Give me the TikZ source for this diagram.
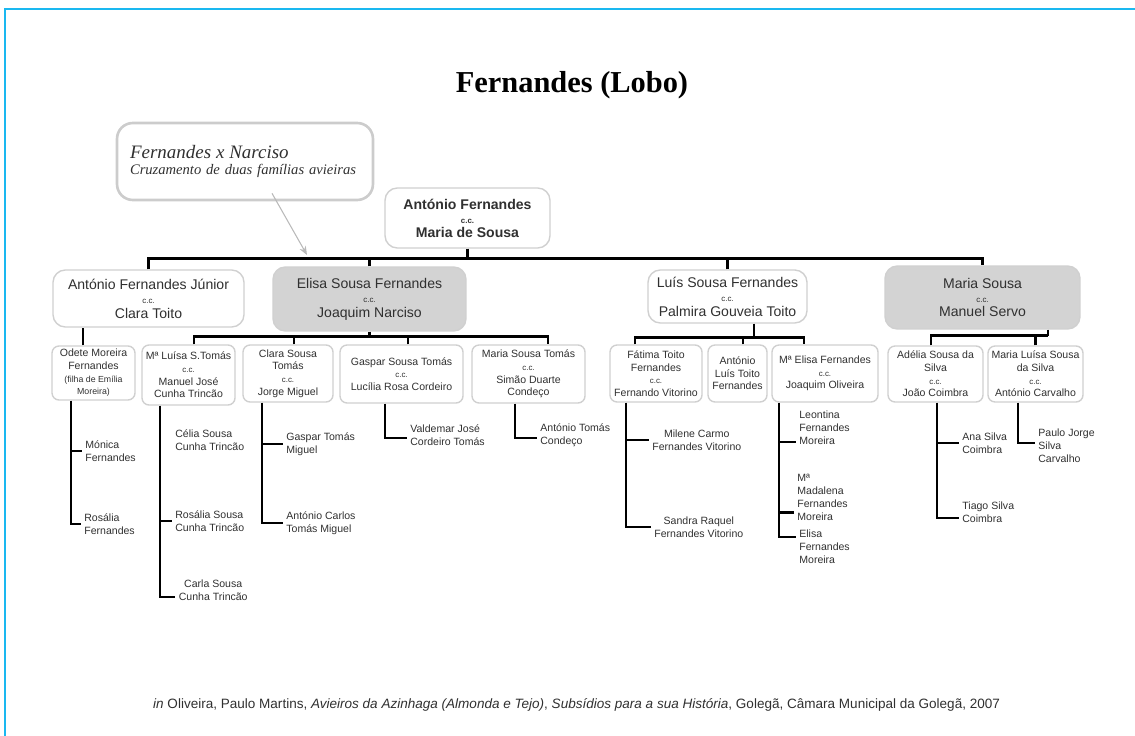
\documentclass[tikz,border=0pt]{standalone}
\usepackage{fontspec}
\setmainfont{Liberation Serif}
\setsansfont{Liberation Sans}
\usepackage{tikz}
\usetikzlibrary{arrows.meta}
\definecolor{frameblue}{HTML}{1AB8F0}
\definecolor{boxline}{HTML}{D0D0D0}
\definecolor{boxgray}{HTML}{D3D3D3}
\definecolor{inkgray}{HTML}{303030}
\newcommand{\casado}{{\fontsize{4.5}{5}\selectfont c.c.}}
\newcommand{\smalltxt}{\fontsize{5}{6}\selectfont}

\begin{document}
\begin{tikzpicture}[x=0.02cm, y=-0.02cm, text=inkgray,
  box/.style={draw=boxline, line width=0.8pt, rounded corners=4pt, align=center, inner sep=1pt, font=\sffamily\fontsize{6}{7.2}\selectfont},
  bigbox/.style={box, rounded corners=7pt, font=\sffamily\fontsize{8}{8.2}\selectfont},
  shaded/.style={fill=boxgray},
  kid/.style={anchor=west, align=left, inner sep=2pt, font=\sffamily\fontsize{6}{7.4}\selectfont},
  link/.style={draw=black, line width=1.6pt},
  note/.style={draw=gray!40, line width=1.5pt, rounded corners=9pt, align=left, text width=4.6cm, font=\rmfamily\itshape\fontsize{8.3}{9.6}\selectfont},
  arrowline/.style={draw=gray!55, line width=0.6pt, -{Stealth[length=5pt,width=4pt]}}]
\useasboundingbox (0,0) rectangle (1135,736);
\draw[frameblue, line width=1.2pt] (5,736) -- (5,9) -- (1135,9);

\node[anchor=base, text=black, font=\rmfamily\bfseries\fontsize{17.3}{20}\selectfont] (title) at (572,93) {Fernandes (Lobo)};
\node[note, minimum width=5.12cm, minimum height=1.54cm] (callout) at (245,161.5) {{\fontsize{10.8}{12}\selectfont Fernandes x Narciso}\\Cruzamento de duas famílias avieiras};

\node[bigbox, font=\sffamily\bfseries\fontsize{8}{8}\selectfont, minimum width=3.3cm, minimum height=1.2cm] (antonio) at (467.5,218) {António Fernandes\\\casado\\Maria de Sousa};

\node[bigbox, minimum width=3.82cm, minimum height=1.14cm] (antJr) at (148.5,298.5) {António Fernandes Júnior\\\casado\\Clara Toito};
\node[bigbox, shaded, minimum width=3.86cm, minimum height=1.28cm] (elisa) at (369.5,299) {Elisa Sousa Fernandes\\\casado\\Joaquim Narciso};
\node[bigbox, minimum width=3.18cm, minimum height=1.06cm] (luis) at (727.5,296.5) {Luís Sousa Fernandes\\\casado\\Palmira Gouveia Toito};
\node[bigbox, shaded, minimum width=3.9cm, minimum height=1.26cm] (mariaS) at (982.5,297.5) {Maria Sousa\\\casado\\Manuel Servo};

\node[box, minimum width=1.66cm, minimum height=1.08cm] (odete) at (93.5,373) {Odete Moreira\\Fernandes\\{\smalltxt (filha de Emília}\\{\smalltxt Moreira)}};
\node[box, minimum width=1.86cm, minimum height=1.2cm] (mluisa) at (188.5,375) {Mª Luísa S.Tomás\\\casado\\Manuel José\\Cunha Trincão};
\node[box, minimum width=1.8cm, minimum height=1.14cm] (clara) at (288,373.5) {Clara Sousa\\Tomás\\\casado\\Jorge Miguel};
\node[box, minimum width=2.46cm, minimum height=1.16cm] (gaspar) at (401.5,374) {Gaspar Sousa Tomás\\\casado\\Lucília Rosa Cordeiro};
\node[box, minimum width=2.26cm, minimum height=1.16cm] (mariaST) at (528.5,374) {Maria Sousa Tomás\\\casado\\Simão Duarte\\Condeço};
\node[box, minimum width=1.84cm, minimum height=1.14cm] (fatima) at (656,373.5) {Fátima Toito\\Fernandes\\\casado\\Fernando Vitorino};
\node[box, minimum width=1.18cm, minimum height=1.14cm] (antLuis) at (737.5,373.5) {António\\Luís Toito\\Fernandes};
\node[box, minimum width=2.12cm, minimum height=1.14cm] (melisa) at (825,373.5) {Mª Elisa Fernandes\\\casado\\Joaquim Oliveira};
\node[box, minimum width=1.9cm, minimum height=1.12cm] (adelia) at (935.5,374) {Adélia Sousa da\\Silva\\\casado\\João Coimbra};
\node[box, minimum width=1.9cm, minimum height=1.12cm] (mluisaS) at (1035.5,374) {Maria Luísa Sousa\\da Silva\\\casado\\António Carvalho};

\node[kid] (monica) at (81.5,451) {Mónica\\Fernandes};
\node[kid] (rosaliaF) at (80.5,524) {Rosália\\Fernandes};
\node[kid] (celia) at (171.5,440) {Célia Sousa\\Cunha Trincão};
\node[kid] (rosaliaS) at (171.5,521) {Rosália Sousa\\Cunha Trincão};
\node[kid, align=center] (carla) at (175,590) {Carla Sousa\\Cunha Trincão};
\node[kid] (gasparTM) at (282.5,444) {Gaspar Tomás\\Miguel};
\node[kid] (antonioCTM) at (282.5,523) {António Carlos\\Tomás Miguel};
\node[kid] (valdemar) at (406.5,435) {Valdemar José\\Cordeiro Tomás};
\node[kid] (antonioTC) at (536.5,435) {António Tomás\\Condeço};
\node[kid, align=center] (milene) at (648.5,440) {Milene Carmo\\Fernandes Vitorino};
\node[kid, align=center] (sandra) at (650.5,527) {Sandra Raquel\\Fernandes Vitorino};
\node[kid] (leontina) at (795.5,428) {Leontina\\Fernandes\\Moreira};
\node[kid] (madalena) at (793.5,497) {Mª\\Madalena\\Fernandes\\Moreira};
\node[kid] (elisaFM) at (795.5,547) {Elisa\\Fernandes\\Moreira};
\node[kid] (ana) at (958.5,443) {Ana Silva\\Coimbra};
\node[kid] (tiago) at (958.5,512) {Tiago Silva\\Coimbra};
\node[kid] (paulo) at (1034.5,446) {Paulo Jorge\\Silva\\Carvalho};

\node[anchor=base west, font=\sffamily\fontsize{7.7}{9}\selectfont] (source) at (147,708) {\textit{in} Oliveira, Paulo Martins, \textit{Avieiros da Azinhaga (Almonda e Tejo)}, \textit{Subsídios para a sua História}, Golegã, Câmara Municipal da Golegã, 2007};

\coordinate (rootBus) at ([yshift=-0.2cm]antonio.south);
\draw[link] (antonio.south) -- (rootBus);
\draw[link] (antJr.north) |- (rootBus) -| (mariaS.north);
\draw[link] (elisa.north) -- (elisa.north |- rootBus);
\draw[link] (luis.north) -- (luis.north |- rootBus);

\draw[link] ([xshift=-0.21cm]odete.north) -- ([xshift=-0.21cm]odete.north |- antJr.south);

\coordinate (elisaBus) at ([yshift=-0.1cm]elisa.south);
\draw[link] (elisa.south) -- (elisaBus);
\draw[link] ([xshift=0.11cm]mluisa.north) |- (elisaBus) -| ([xshift=0.39cm]mariaST.north);
\draw[link] ([xshift=0.12cm]clara.north) -- ([xshift=0.12cm]clara.north |- elisaBus);
\draw[link] ([xshift=0.13cm]gaspar.north) -- ([xshift=0.13cm]gaspar.north |- elisaBus);

\coordinate (luisBus) at ([xshift=0.53cm, yshift=-0.28cm]luis.south);
\draw[link] ([xshift=0.53cm]luis.south) -- (luisBus);
\draw[link] ([xshift=-0.42cm]fatima.north) |- (luisBus) -| ([xshift=-0.42cm]melisa.north);
\draw[link] ([xshift=0.11cm]antLuis.north) -- ([xshift=0.11cm]antLuis.north |- luisBus);

\coordinate (mariaBus) at ([xshift=1.31cm, yshift=-0.12cm]mariaS.south);
\draw[link] ([xshift=1.31cm]mariaS.south) -- (mariaBus);
\draw[link] ([xshift=-0.09cm]adelia.north) |- (mariaBus);
\draw[link] (mluisaS.north) -- (mluisaS.north |- mariaBus);

\coordinate (odeteLine) at ([xshift=-0.45cm]odete.south);
\draw[link] (odeteLine) |- (rosaliaF.west);
\draw[link] (monica.west) -| (odeteLine);

\coordinate (mluisaLine) at ([xshift=-0.57cm]mluisa.south);
\draw[link] (mluisaLine) |- ([yshift=-0.14cm]carla.west);
\draw[link] (rosaliaS.west) -| (mluisaLine);

\coordinate (claraLine) at ([xshift=-0.52cm]clara.south);
\draw[link] (claraLine) |- (antonioCTM.west);
\draw[link] (gasparTM.west) -| (claraLine);

\draw[link] ([xshift=-0.33cm]gaspar.south) |- ([yshift=-0.06cm]valdemar.west);
\draw[link] ([xshift=-0.27cm]mariaST.south) |- ([yshift=-0.06cm]antonioTC.west);

\coordinate (fatimaLine) at ([xshift=-0.6cm]fatima.south);
\draw[link] (fatimaLine) |- (sandra.west);
\draw[link] (milene.west) -| (fatimaLine);

\coordinate (melisaLine) at ([xshift=-0.92cm]melisa.south);
\draw[link] (melisaLine) |- ([yshift=0.2cm]elisaFM.west);
\draw[link] ([yshift=-0.28cm]leontina.west) -| (melisaLine);
\draw[link] ([yshift=-0.31cm]madalena.west) -| (melisaLine);

\coordinate (adeliaLine) at ([xshift=0.03cm]adelia.south);
\draw[link] (adeliaLine) |- ([yshift=-0.12cm]tiago.west);
\draw[link] (ana.west) -| (adeliaLine);

\draw[link] ([xshift=-0.35cm]mluisaS.south) |- ([yshift=0.06cm]paulo.west);

\coordinate (pointerTip) at (307,255);
\draw[arrowline] ([xshift=0.54cm, yshift=0.16cm]callout.south) -- (pointerTip);
\end{tikzpicture}
\end{document}
